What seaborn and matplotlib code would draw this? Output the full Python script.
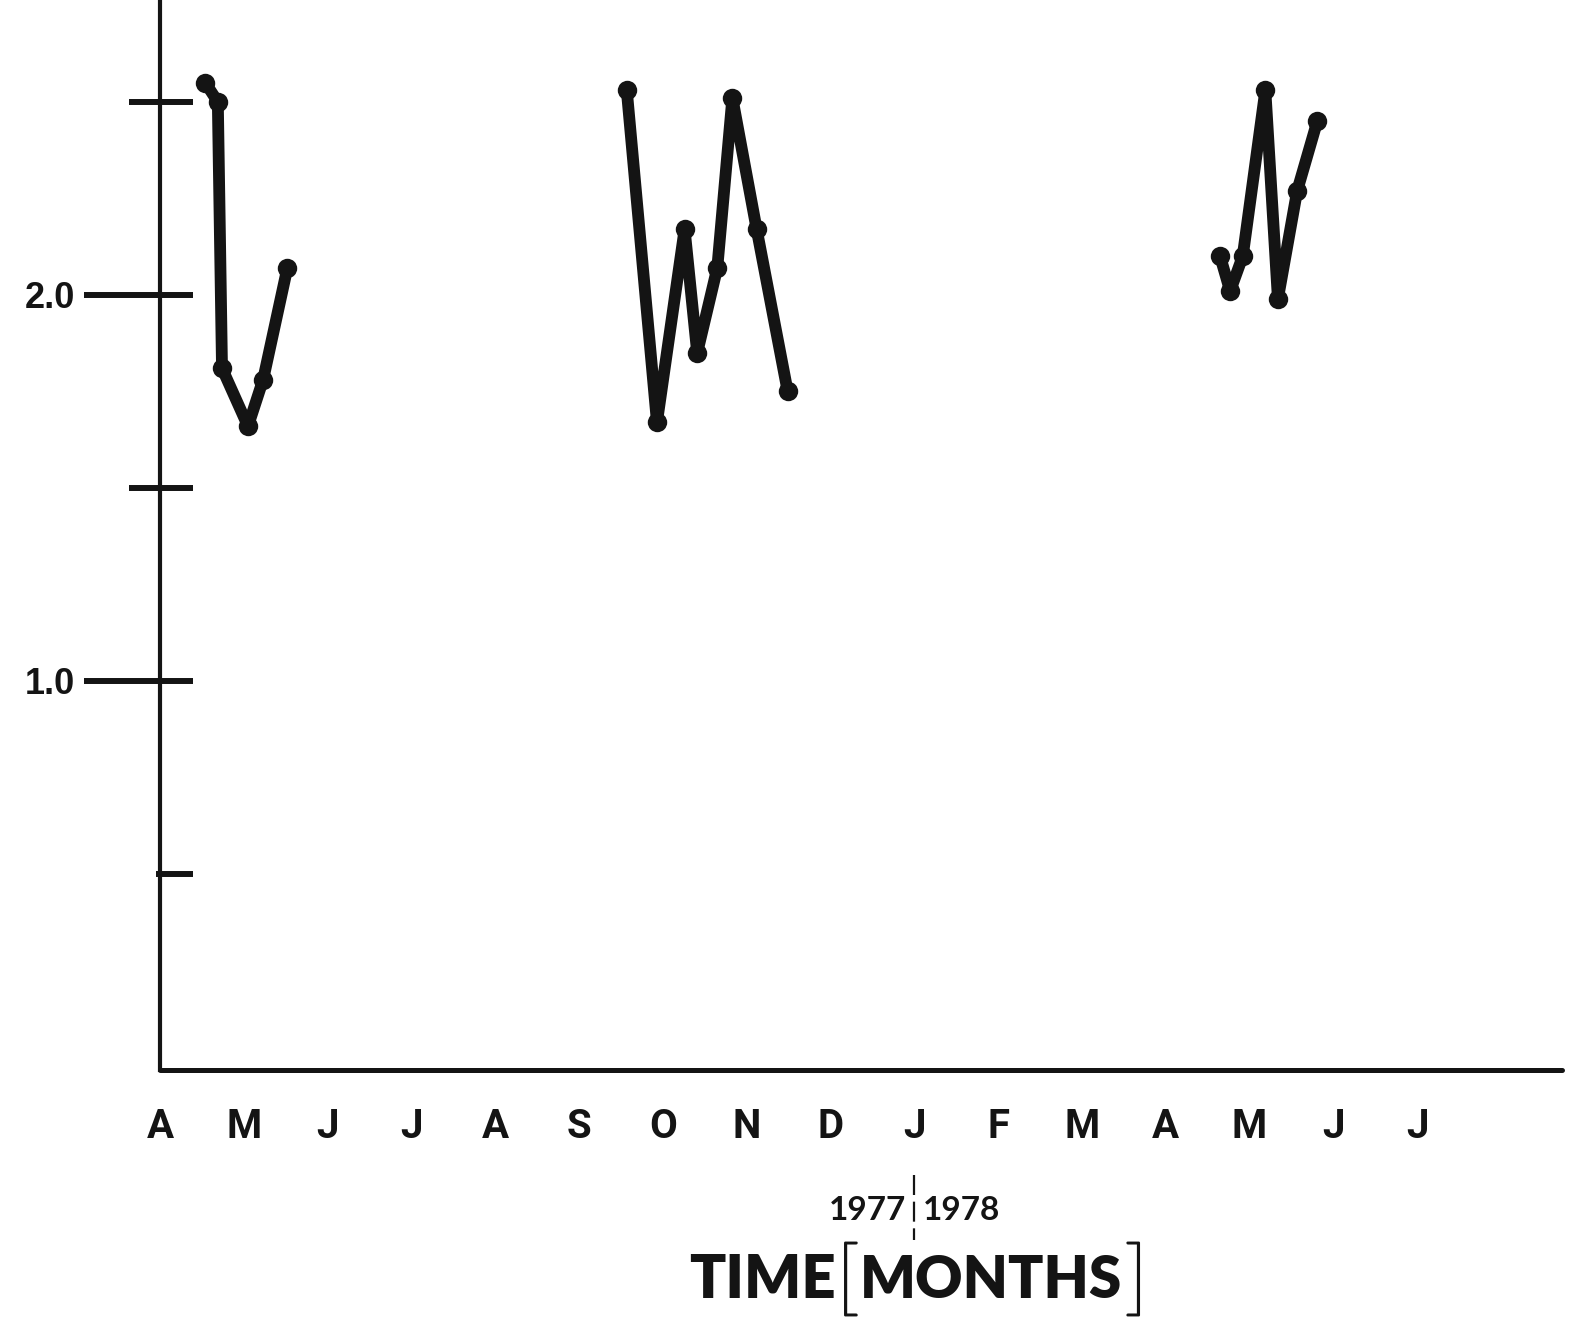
import pandas as pd
import matplotlib
matplotlib.use("Agg")
import matplotlib.pyplot as plt
import matplotlib.transforms as mtransforms
import matplotlib.patheffects as pe
import seaborn as sns

## Values (x = months since start of April 1977)

spring77_month = [0.54, 0.69, 0.74, 1.05, 1.23, 1.52]
spring77_value = [2.55, 2.50, 1.81, 1.66, 1.78, 2.07]

autumn77_month = [5.57, 5.93, 6.26, 6.41, 6.65, 6.83, 7.12, 7.49]
autumn77_value = [2.53, 1.67, 2.17, 1.85, 2.07, 2.51, 2.17, 1.75]

spring78_month = [12.65, 12.77, 12.92, 13.19, 13.34, 13.57, 13.81]
spring78_value = [2.10, 2.01, 2.10, 2.53, 1.99, 2.27, 2.45]

month_labels = ["A", "M", "J", "J", "A", "S", "O", "N", "D", "J", "F", "M", "A", "M", "J", "J"]
y_major = [1.0, 2.0]
y_major_labels = ["1.0", "2.0"]
y_minor = [0.5, 1.5, 2.5]
year_split = 9  # January 1978

## Build long table

df = pd.concat([
    pd.DataFrame({"month": spring77_month, "value": spring77_value, "series": "spring 1977"}),
    pd.DataFrame({"month": autumn77_month, "value": autumn77_value, "series": "autumn 1977"}),
    pd.DataFrame({"month": spring78_month, "value": spring78_value, "series": "spring 1978"}),
], ignore_index=True)

## Plot

sns.set_style("white")
ink = "#141414"

W, H = 1571, 1321
fig = plt.figure(figsize=(W / 100, H / 100), dpi=100)
ax = fig.add_axes([160 / W, 251 / H, (1562 - 160) / W, 1070 / H])

sns.lineplot(
    data=df, x="month", y="value", units="series", estimator=None, sort=False,
    color=ink, lw=8.5, marker="o", markersize=14,
    markeredgecolor=ink, markeredgewidth=0, ax=ax,
)

ax.set_xlim(0, 16.73)
ax.set_ylim(-0.008, 2.764)
ax.set_xlabel("")
ax.set_ylabel("")

for side in ["top", "right"]:
    ax.spines[side].set_visible(False)
ax.spines["left"].set_linewidth(3)
ax.spines["left"].set_color(ink)
ax.spines["bottom"].set_linewidth(3.6)
ax.spines["bottom"].set_color(ink)
ax.spines["bottom"].set_capstyle("round")

# y ticks: long outward ticks with labels at 1.0 / 2.0, shorter ones between
ax.set_yticks(y_major)
ax.set_yticklabels(y_major_labels)
ax.set_yticks(y_minor, minor=True)
ax.tick_params(axis="y", which="major", direction="out", length=55, width=4.3,
               color=ink, pad=6, labelsize=26, labelcolor=ink)
ax.tick_params(axis="y", which="minor", direction="out", length=22, width=4.3, color=ink)
ax.yaxis.get_minor_ticks()[0].tick1line.set_markersize(3)
for lab in ax.get_yticklabels():
    lab.set_fontfamily(["Liberation Sans", "DejaVu Sans"])
    lab.set_fontweight("bold")

# inward stubs of the y ticks (twin axis whose right spine sits on the left)
ax_in = ax.twinx()
ax_in.set_ylim(ax.get_ylim())
ax_in.spines["right"].set_position(("axes", 0))
for side in ["left", "right", "top", "bottom"]:
    ax_in.spines[side].set_visible(False)
ax_in.set_yticks(y_major + y_minor)
ax_in.tick_params(axis="y", direction="out", length=24, width=4.3, color=ink, labelright=False)

# x ticks: months
ax.set_xticks(range(len(month_labels)))
ax.set_xticklabels(month_labels)
ax.tick_params(axis="x", direction="out", length=18, width=3, color=ink,
               pad=9, labelsize=29, labelcolor=ink)
ax.xaxis.get_major_ticks()[0].tick1line.set_visible(False)
for lab in ax.get_xticklabels():
    lab.set_fontfamily(["Liberation Sans Narrow", "Roboto", "DejaVu Sans"])
    lab.set_fontweight("bold")

# year split and axis title
split_tr = mtransforms.blended_transform_factory(ax.transData, fig.transFigure)
ax.plot([year_split, year_split], [1 - 1175 / H, 1 - 1240 / H], color=ink, lw=1.6,
        dashes=(9, 3), transform=split_tr, clip_on=False)
ax.text(year_split - 0.1, 1 - 1210 / H, "1977", transform=split_tr, ha="right", va="center",
        fontsize=24, fontweight="bold", color=ink, family=["Lato", "DejaVu Sans"])
ax.text(year_split + 0.1, 1 - 1210 / H, "1978", transform=split_tr, ha="left", va="center",
        fontsize=24, fontweight="bold", color=ink, family=["Lato", "DejaVu Sans"])

title_y = 1 - 1280 / H
bracket_fx = [pe.withStroke(linewidth=1.6, foreground=ink)]
fig.text(836 / W, title_y, "TIME", ha="right", va="center", fontsize=43,
         fontweight="heavy", color=ink, family=["Lato", "DejaVu Sans"])
fig.text(848 / W, 1 - 1283 / H, "[", ha="center", va="center", fontsize=60,
         fontweight="light", color=ink, family=["Lato", "DejaVu Sans"],
         path_effects=bracket_fx)
fig.text(860 / W, title_y, "MONTHS", ha="left", va="center", fontsize=42,
         fontweight="heavy", color=ink, family=["Lato", "DejaVu Sans"])
fig.text(1136 / W, 1 - 1283 / H, "]", ha="center", va="center", fontsize=60,
         fontweight="light", color=ink, family=["Lato", "DejaVu Sans"],
         path_effects=bracket_fx)

fig.savefig("out.png", dpi=100)
plt.close(fig)
